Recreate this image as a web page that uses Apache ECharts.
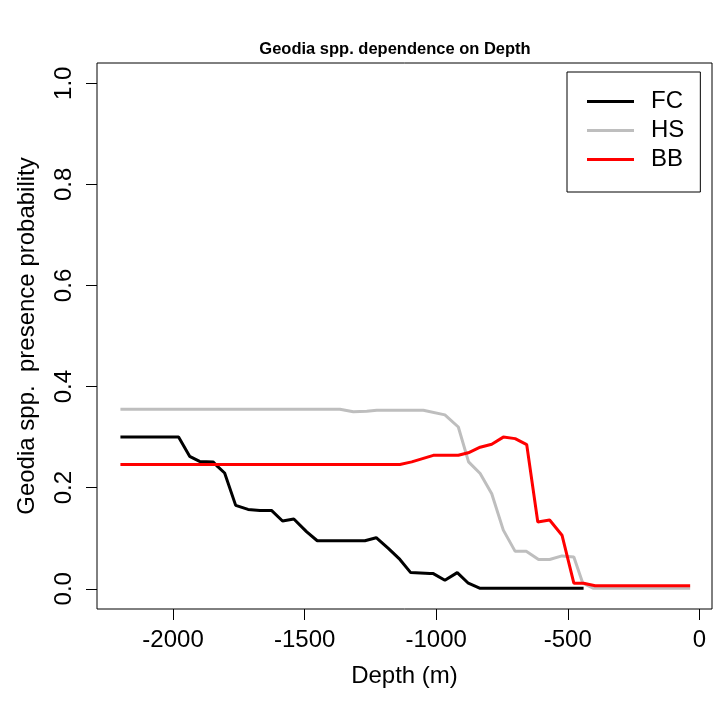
<!DOCTYPE html>
<html>
<head>
<meta charset="utf-8">
<script src="https://cdn.jsdelivr.net/npm/echarts@6/dist/echarts.min.js"></script>
<style>html,body{margin:0;padding:0;background:#fff}#c{width:720px;height:707px}</style>
</head>
<body>
<div id="c"></div>
<script>
var xTicks = [-2000, -1500, -1000, -500, 0];
var yTicks = [0, 0.2, 0.4, 0.6, 0.8, 1.0];

var fcDepth = [-2200, -1979, -1937, -1899, -1848, -1829, -1804, -1762, -1715, -1670, -1626, -1584, -1541, -1493, -1452, -1271, -1228, -1182, -1138, -1097, -1024, -1011, -967, -920, -878, -833, -440];
var fcProb  = [0.300, 0.300, 0.262, 0.252, 0.251, 0.241, 0.229, 0.165, 0.157, 0.155, 0.155, 0.134, 0.138, 0.113, 0.095, 0.095, 0.101, 0.080, 0.058, 0.032, 0.030, 0.030, 0.017, 0.032, 0.011, 0.001, 0.001];

var hsDepth = [-2200, -1366, -1315, -1264, -1226, -1049, -967, -916, -877, -833, -789, -745, -700, -658, -611, -569, -522, -477, -443, -402, -35];
var hsProb  = [0.355, 0.355, 0.350, 0.351, 0.353, 0.353, 0.344, 0.320, 0.251, 0.228, 0.188, 0.116, 0.074, 0.074, 0.058, 0.058, 0.065, 0.063, 0.011, 0.001, 0.001];

var bbDepth = [-2200, -1138, -1093, -1011, -916, -878, -833, -789, -745, -700, -656, -614, -569, -522, -477, -440, -396, -35];
var bbProb  = [0.246, 0.246, 0.251, 0.264, 0.264, 0.269, 0.280, 0.286, 0.300, 0.297, 0.285, 0.132, 0.136, 0.106, 0.011, 0.011, 0.006, 0.006];

function pairs(xs, ys) { return xs.map(function (x, i) { return [x, ys[i]]; }); }

var FONT = 'Liberation Sans, Arial, sans-serif';
var chart = echarts.init(document.getElementById('c'), null, { renderer: 'canvas' });
chart.setOption({
  backgroundColor: '#ffffff',
  animation: false,
  title: {
    text: 'Geodia spp. dependence on Depth',
    left: 390, top: 36, textAlign: 'center',
    textStyle: { fontFamily: FONT, fontSize: 16.5, fontWeight: 'bold', color: '#000' }
  },
  legend: {
    orient: 'vertical', left: 567, top: 72,
    padding: [15, 16, 18, 20],
    borderColor: '#000', borderWidth: 1,
    itemWidth: 47, itemHeight: 3, itemGap: 0,
    icon: 'rect',
    textStyle: { fontFamily: FONT, fontSize: 24, lineHeight: 29, color: '#000', padding: [0, 0, 0, 12] },
    data: ['FC', 'HS', 'BB']
  },
  grid: { left: 97, right: 8, top: 63, bottom: 98, show: true, borderColor: '#000', borderWidth: 1 },
  xAxis: {
    type: 'value', min: -2289, max: 48,
    name: 'Depth (m)', nameLocation: 'middle', nameGap: 55,
    nameTextStyle: { fontFamily: FONT, fontSize: 24, color: '#000' },
    axisLine: { show: false, onZero: false },
    splitLine: { show: false },
    axisTick: { show: true, length: 11, lineStyle: { color: '#000' }, customValues: xTicks },
    axisLabel: { fontFamily: FONT, fontSize: 24, color: '#000', margin: 19, customValues: xTicks,
      formatter: function (v) { return String(v); } }
  },
  yAxis: {
    type: 'value', min: -0.04, max: 1.04,
    name: 'Geodia spp.  presence probability', nameLocation: 'middle', nameGap: 58,
    nameTextStyle: { fontFamily: FONT, fontSize: 24, color: '#000' },
    axisLine: { show: false, onZero: false },
    splitLine: { show: false },
    axisTick: { show: true, length: 11, lineStyle: { color: '#000' }, customValues: yTicks },
    axisLabel: { fontFamily: FONT, fontSize: 24, color: '#000', margin: 21, rotate: 90,
      customValues: yTicks, formatter: function (v) { return v.toFixed(1); } }
  },
  series: [
    { name: 'FC', type: 'line', data: pairs(fcDepth, fcProb), showSymbol: false, lineStyle: { color: '#000000', width: 3 }, itemStyle: { color: '#000000' }, z: 4 },
    { name: 'HS', type: 'line', data: pairs(hsDepth, hsProb), showSymbol: false, lineStyle: { color: '#bebebe', width: 3 }, itemStyle: { color: '#bebebe' }, z: 3 },
    { name: 'BB', type: 'line', data: pairs(bbDepth, bbProb), showSymbol: false, lineStyle: { color: '#ff0000', width: 3 }, itemStyle: { color: '#ff0000' }, z: 5 }
  ]
});
</script>
</body>
</html>
